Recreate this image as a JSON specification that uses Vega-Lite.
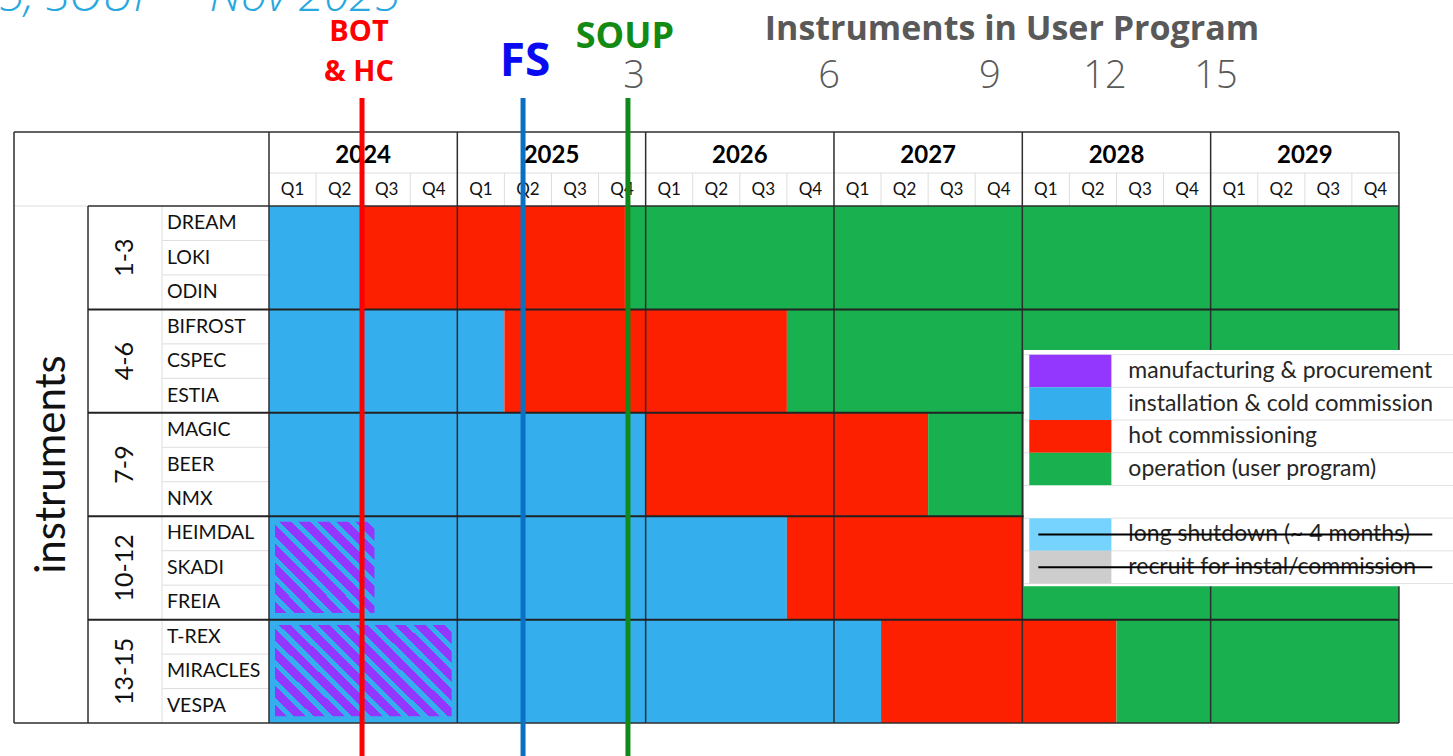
{
  "$schema": "https://vega.github.io/schema/vega-lite/v6.json",
  "width": 1453,
  "height": 756,
  "autosize": {"type": "none"},
  "padding": 0,
  "background": "white",
  "config": {"view": {"stroke": null}, "font": "Lato"},
  "datasets": {
    "segments": [
      {"group": "1-3", "first": 1, "last": 3, "phase": "installation & cold commission", "start": 2024, "end": 2024.48},
      {"group": "1-3", "first": 1, "last": 3, "phase": "hot commissioning", "start": 2024.48, "end": 2025.89},
      {"group": "1-3", "first": 1, "last": 3, "phase": "operation (user program)", "start": 2025.89, "end": 2030},
      {"group": "4-6", "first": 4, "last": 6, "phase": "installation & cold commission", "start": 2024, "end": 2025.25},
      {"group": "4-6", "first": 4, "last": 6, "phase": "hot commissioning", "start": 2025.25, "end": 2026.75},
      {"group": "4-6", "first": 4, "last": 6, "phase": "operation (user program)", "start": 2026.75, "end": 2030},
      {"group": "7-9", "first": 7, "last": 9, "phase": "installation & cold commission", "start": 2024, "end": 2026},
      {"group": "7-9", "first": 7, "last": 9, "phase": "hot commissioning", "start": 2026, "end": 2027.5},
      {"group": "7-9", "first": 7, "last": 9, "phase": "operation (user program)", "start": 2027.5, "end": 2030},
      {"group": "10-12", "first": 10, "last": 12, "phase": "manufacturing & procurement", "start": 2024, "end": 2024.56},
      {"group": "10-12", "first": 10, "last": 12, "phase": "installation & cold commission", "start": 2024, "end": 2026.75},
      {"group": "10-12", "first": 10, "last": 12, "phase": "hot commissioning", "start": 2026.75, "end": 2028},
      {"group": "10-12", "first": 10, "last": 12, "phase": "operation (user program)", "start": 2028, "end": 2030},
      {"group": "13-15", "first": 13, "last": 15, "phase": "manufacturing & procurement", "start": 2024, "end": 2024.97},
      {"group": "13-15", "first": 13, "last": 15, "phase": "installation & cold commission", "start": 2024, "end": 2027.25},
      {"group": "13-15", "first": 13, "last": 15, "phase": "hot commissioning", "start": 2027.25, "end": 2028.5},
      {"group": "13-15", "first": 13, "last": 15, "phase": "operation (user program)", "start": 2028.5, "end": 2030}
    ],
    "groups": [
      {"group": "1-3", "first": 1, "last": 3},
      {"group": "4-6", "first": 4, "last": 6},
      {"group": "7-9", "first": 7, "last": 9},
      {"group": "10-12", "first": 10, "last": 12},
      {"group": "13-15", "first": 13, "last": 15}
    ],
    "names": [
      {"n": 1, "name": "DREAM"}, {"n": 2, "name": "LOKI"}, {"n": 3, "name": "ODIN"},
      {"n": 4, "name": "BIFROST"}, {"n": 5, "name": "CSPEC"}, {"n": 6, "name": "ESTIA"},
      {"n": 7, "name": "MAGIC"}, {"n": 8, "name": "BEER"}, {"n": 9, "name": "NMX"},
      {"n": 10, "name": "HEIMDAL"}, {"n": 11, "name": "SKADI"}, {"n": 12, "name": "FREIA"},
      {"n": 13, "name": "T-REX"}, {"n": 14, "name": "MIRACLES"}, {"n": 15, "name": "VESPA"}
    ],
    "years": [{"year": 2024}, {"year": 2025}, {"year": 2026}, {"year": 2027}, {"year": 2028}, {"year": 2029}],
    "quarters": [
      {"q": "Q1", "start": 2024}, {"q": "Q2", "start": 2024.25}, {"q": "Q3", "start": 2024.5}, {"q": "Q4", "start": 2024.75},
      {"q": "Q1", "start": 2025}, {"q": "Q2", "start": 2025.25}, {"q": "Q3", "start": 2025.5}, {"q": "Q4", "start": 2025.75},
      {"q": "Q1", "start": 2026}, {"q": "Q2", "start": 2026.25}, {"q": "Q3", "start": 2026.5}, {"q": "Q4", "start": 2026.75},
      {"q": "Q1", "start": 2027}, {"q": "Q2", "start": 2027.25}, {"q": "Q3", "start": 2027.5}, {"q": "Q4", "start": 2027.75},
      {"q": "Q1", "start": 2028}, {"q": "Q2", "start": 2028.25}, {"q": "Q3", "start": 2028.5}, {"q": "Q4", "start": 2028.75},
      {"q": "Q1", "start": 2029}, {"q": "Q2", "start": 2029.25}, {"q": "Q3", "start": 2029.5}, {"q": "Q4", "start": 2029.75}
    ],
    "milestones": [
      {"milestone": "BOT & HC", "t": 2024.494},
      {"milestone": "FS", "t": 2025.349},
      {"milestone": "SOUP", "t": 2025.906}
    ],
    "uptake": [
      {"count": "3", "t": 2025.938},
      {"count": "6", "t": 2026.974},
      {"count": "9", "t": 2027.828},
      {"count": "12", "t": 2028.439},
      {"count": "15", "t": 2029.028}
    ],
    "legend": [
      {"order": 0, "label": "manufacturing & procurement"},
      {"order": 1, "label": "installation & cold commission"},
      {"order": 2, "label": "hot commissioning"},
      {"order": 3, "label": "operation (user program)"},
      {"order": 4, "label": ""},
      {"order": 5, "label": "long shutdown (~ 4 months)"},
      {"order": 6, "label": "recruit for instal/commission"}
    ]
  },
  "layer": [
    {
      "layer": [
        {
          "data": {"name": "segments"},
          "transform": [{"filter": "datum.phase !== 'manufacturing & procurement'"}],
          "mark": {"type": "rect", "yOffset": -17.235, "y2Offset": 17.235},
          "encoding": {
            "x": {"field": "start", "type": "quantitative", "scale": {"domain": [2022.5717, 2030.2869], "nice": false, "zero": false}, "axis": null},
            "x2": {"field": "end"},
            "y": {"field": "first", "type": "quantitative", "scale": {"domain": [-5.476, 16.456], "reverse": true, "nice": false, "zero": false}, "axis": null},
            "y2": {"field": "last"},
            "color": {
              "field": "phase", "type": "nominal", "legend": null,
              "scale": {
                "domain": ["manufacturing & procurement", "installation & cold commission", "hot commissioning", "operation (user program)", "", "long shutdown (~ 4 months)", "recruit for instal/commission"],
                "range": ["#9437fe", "#35aeee", "#fc1f00", "#19b04f", "#ffffff", "#75d3fd", "#cdcdcd"]
              }
            }
          }
        },
        {
          "data": {"name": "segments"},
          "transform": [{"filter": "datum.phase === 'manufacturing & procurement' && datum.group === '10-12'"}],
          "mark": {
            "type": "rect", "xOffset": 6, "yOffset": -11.8, "y2Offset": 10.5,
            "fill": {
              "gradient": "linear", "x1": 0, "y1": 1, "x2": 1.0448, "y2": 0.0492,
              "stops": [
                {"offset": 0, "color": "#9437fe"}, {"offset": 0.062, "color": "#9437fe"}, {"offset": 0.062, "color": "#35aeee"}, {"offset": 0.1, "color": "#35aeee"},
                {"offset": 0.1, "color": "#9437fe"}, {"offset": 0.162, "color": "#9437fe"}, {"offset": 0.162, "color": "#35aeee"}, {"offset": 0.2, "color": "#35aeee"},
                {"offset": 0.2, "color": "#9437fe"}, {"offset": 0.262, "color": "#9437fe"}, {"offset": 0.262, "color": "#35aeee"}, {"offset": 0.3, "color": "#35aeee"},
                {"offset": 0.3, "color": "#9437fe"}, {"offset": 0.362, "color": "#9437fe"}, {"offset": 0.362, "color": "#35aeee"}, {"offset": 0.4, "color": "#35aeee"},
                {"offset": 0.4, "color": "#9437fe"}, {"offset": 0.462, "color": "#9437fe"}, {"offset": 0.462, "color": "#35aeee"}, {"offset": 0.5, "color": "#35aeee"},
                {"offset": 0.5, "color": "#9437fe"}, {"offset": 0.562, "color": "#9437fe"}, {"offset": 0.562, "color": "#35aeee"}, {"offset": 0.6, "color": "#35aeee"},
                {"offset": 0.6, "color": "#9437fe"}, {"offset": 0.662, "color": "#9437fe"}, {"offset": 0.662, "color": "#35aeee"}, {"offset": 0.7, "color": "#35aeee"},
                {"offset": 0.7, "color": "#9437fe"}, {"offset": 0.762, "color": "#9437fe"}, {"offset": 0.762, "color": "#35aeee"}, {"offset": 0.8, "color": "#35aeee"},
                {"offset": 0.8, "color": "#9437fe"}, {"offset": 0.862, "color": "#9437fe"}, {"offset": 0.862, "color": "#35aeee"}, {"offset": 0.9, "color": "#35aeee"},
                {"offset": 0.9, "color": "#9437fe"}, {"offset": 0.962, "color": "#9437fe"}, {"offset": 0.962, "color": "#35aeee"}, {"offset": 1, "color": "#35aeee"}
              ]
            }
          },
          "encoding": {
            "x": {"field": "start", "type": "quantitative"},
            "x2": {"field": "end"},
            "y": {"field": "first", "type": "quantitative"},
            "y2": {"field": "last"}
          }
        },
        {
          "data": {"name": "segments"},
          "transform": [{"filter": "datum.phase === 'manufacturing & procurement' && datum.group === '13-15'"}],
          "mark": {
            "type": "rect", "xOffset": 6, "yOffset": -11.8, "y2Offset": 10.5,
            "fill": {
              "gradient": "linear", "x1": 0, "y1": 1, "x2": 1.1965, "y2": 0.3781,
              "stops": [
                {"offset": 0, "color": "#9437fe"}, {"offset": 0.0443, "color": "#9437fe"}, {"offset": 0.0443, "color": "#35aeee"}, {"offset": 0.0714, "color": "#35aeee"},
                {"offset": 0.0714, "color": "#9437fe"}, {"offset": 0.1157, "color": "#9437fe"}, {"offset": 0.1157, "color": "#35aeee"}, {"offset": 0.1429, "color": "#35aeee"},
                {"offset": 0.1429, "color": "#9437fe"}, {"offset": 0.1871, "color": "#9437fe"}, {"offset": 0.1871, "color": "#35aeee"}, {"offset": 0.2143, "color": "#35aeee"},
                {"offset": 0.2143, "color": "#9437fe"}, {"offset": 0.2586, "color": "#9437fe"}, {"offset": 0.2586, "color": "#35aeee"}, {"offset": 0.2857, "color": "#35aeee"},
                {"offset": 0.2857, "color": "#9437fe"}, {"offset": 0.33, "color": "#9437fe"}, {"offset": 0.33, "color": "#35aeee"}, {"offset": 0.3571, "color": "#35aeee"},
                {"offset": 0.3571, "color": "#9437fe"}, {"offset": 0.4014, "color": "#9437fe"}, {"offset": 0.4014, "color": "#35aeee"}, {"offset": 0.4286, "color": "#35aeee"},
                {"offset": 0.4286, "color": "#9437fe"}, {"offset": 0.4729, "color": "#9437fe"}, {"offset": 0.4729, "color": "#35aeee"}, {"offset": 0.5, "color": "#35aeee"},
                {"offset": 0.5, "color": "#9437fe"}, {"offset": 0.5443, "color": "#9437fe"}, {"offset": 0.5443, "color": "#35aeee"}, {"offset": 0.5714, "color": "#35aeee"},
                {"offset": 0.5714, "color": "#9437fe"}, {"offset": 0.6157, "color": "#9437fe"}, {"offset": 0.6157, "color": "#35aeee"}, {"offset": 0.6429, "color": "#35aeee"},
                {"offset": 0.6429, "color": "#9437fe"}, {"offset": 0.6871, "color": "#9437fe"}, {"offset": 0.6871, "color": "#35aeee"}, {"offset": 0.7143, "color": "#35aeee"},
                {"offset": 0.7143, "color": "#9437fe"}, {"offset": 0.7586, "color": "#9437fe"}, {"offset": 0.7586, "color": "#35aeee"}, {"offset": 0.7857, "color": "#35aeee"},
                {"offset": 0.7857, "color": "#9437fe"}, {"offset": 0.83, "color": "#9437fe"}, {"offset": 0.83, "color": "#35aeee"}, {"offset": 0.8571, "color": "#35aeee"},
                {"offset": 0.8571, "color": "#9437fe"}, {"offset": 0.9014, "color": "#9437fe"}, {"offset": 0.9014, "color": "#35aeee"}, {"offset": 0.9286, "color": "#35aeee"},
                {"offset": 0.9286, "color": "#9437fe"}, {"offset": 0.9729, "color": "#9437fe"}, {"offset": 0.9729, "color": "#35aeee"}, {"offset": 1, "color": "#35aeee"}
              ]
            }
          },
          "encoding": {
            "x": {"field": "start", "type": "quantitative"},
            "x2": {"field": "end"},
            "y": {"field": "first", "type": "quantitative"},
            "y2": {"field": "last"}
          }
        },
        {
          "data": {"name": "names"},
          "transform": [{"filter": "datum.n % 3 !== 0"}],
          "mark": {"type": "rule", "color": "#dedede", "strokeWidth": 1, "yOffset": 17.235},
          "encoding": {"x": {"datum": 2023.432}, "x2": {"datum": 2024}, "y": {"field": "n", "type": "quantitative"}}
        },
        {
          "data": {"values": [{}]},
          "mark": {"type": "rule", "color": "#dedede", "strokeWidth": 1},
          "encoding": {"x": {"datum": 2023.432}, "y": {"datum": 0.5}, "y2": {"datum": 15.5}}
        },
        {
          "data": {"values": [{}]},
          "mark": {"type": "rule", "color": "#dedede", "strokeWidth": 1},
          "encoding": {"x": {"datum": 2024}, "x2": {"datum": 2030}, "y": {"datum": -0.457}}
        },
        {
          "data": {"values": [{}]},
          "mark": {"type": "rule", "color": "#dedede", "strokeWidth": 1},
          "encoding": {"x": {"datum": 2022.646}, "x2": {"datum": 2023.039}, "y": {"datum": 0.5}}
        },
        {
          "data": {"name": "quarters"},
          "transform": [{"filter": "datum.q !== 'Q1'"}],
          "mark": {"type": "rule", "color": "#dedede", "strokeWidth": 1},
          "encoding": {"x": {"field": "start", "type": "quantitative"}, "y": {"datum": -0.457}, "y2": {"datum": 0.5}}
        },
        {
          "data": {"name": "years"},
          "mark": {"type": "rule", "color": "#2e2e2e", "strokeWidth": 1.5},
          "encoding": {"x": {"field": "year", "type": "quantitative"}, "y": {"datum": -1.647}, "y2": {"datum": 15.5}}
        },
        {
          "data": {"values": [{}]},
          "mark": {"type": "rule", "color": "#2e2e2e", "strokeWidth": 1.5},
          "encoding": {"x": {"datum": 2030}, "y": {"datum": -1.647}, "y2": {"datum": 15.5}}
        },
        {
          "data": {"values": [{}]},
          "mark": {"type": "rule", "color": "#2e2e2e", "strokeWidth": 1.5},
          "encoding": {"x": {"datum": 2022.646}, "y": {"datum": -1.647}, "y2": {"datum": 15.5}}
        },
        {
          "data": {"values": [{}]},
          "mark": {"type": "rule", "color": "#2e2e2e", "strokeWidth": 1.5},
          "encoding": {"x": {"datum": 2023.039}, "y": {"datum": 0.5}, "y2": {"datum": 15.5}}
        },
        {
          "data": {"values": [{}]},
          "mark": {"type": "rule", "color": "#2e2e2e", "strokeWidth": 1.5},
          "encoding": {"x": {"datum": 2022.646}, "x2": {"datum": 2030}, "y": {"datum": -1.647}}
        },
        {
          "data": {"values": [{}]},
          "mark": {"type": "rule", "color": "#2e2e2e", "strokeWidth": 1.5},
          "encoding": {"x": {"datum": 2023.039}, "x2": {"datum": 2030}, "y": {"datum": 0.5}}
        },
        {
          "data": {"values": [{}]},
          "mark": {"type": "rule", "color": "#2e2e2e", "strokeWidth": 1.5},
          "encoding": {"x": {"datum": 2022.646}, "x2": {"datum": 2030}, "y": {"datum": 15.5}}
        },
        {
          "data": {"name": "groups"},
          "transform": [{"filter": "datum.last < 15"}],
          "mark": {"type": "rule", "color": "#222222", "strokeWidth": 2, "yOffset": 17.235},
          "encoding": {"x": {"datum": 2023.039}, "x2": {"datum": 2030}, "y": {"field": "last", "type": "quantitative"}}
        },
        {
          "data": {"name": "years"},
          "mark": {"type": "text", "font": "Lato", "fontWeight": "bold", "fontSize": 24, "color": "#000000", "align": "center", "baseline": "middle", "xOffset": 94.17},
          "encoding": {"x": {"field": "year", "type": "quantitative"}, "y": {"datum": -0.951}, "text": {"field": "year", "type": "quantitative", "format": "d"}}
        },
        {
          "data": {"name": "quarters"},
          "mark": {"type": "text", "font": "Lato", "fontSize": 17, "color": "#111111", "align": "center", "baseline": "middle", "xOffset": 23.54},
          "encoding": {"x": {"field": "start", "type": "quantitative"}, "y": {"datum": 0.036}, "text": {"field": "q"}}
        },
        {
          "data": {"name": "names"},
          "mark": {"type": "text", "font": "Lato", "fontSize": 19.5, "color": "#111111", "align": "left", "baseline": "middle"},
          "encoding": {"x": {"datum": 2023.458}, "y": {"field": "n", "type": "quantitative"}, "text": {"field": "name"}}
        },
        {
          "data": {"name": "groups"},
          "mark": {"type": "text", "font": "Lato", "fontSize": 25, "color": "#111111", "align": "center", "baseline": "middle", "angle": 270, "yOffset": 34.47},
          "encoding": {"x": {"datum": 2023.235}, "y": {"field": "first", "type": "quantitative"}, "text": {"field": "group"}}
        },
        {
          "data": {"values": [{}]},
          "mark": {"type": "text", "font": "Lato", "fontSize": 42, "color": "#111111", "align": "center", "baseline": "middle", "angle": 270},
          "encoding": {"x": {"datum": 2022.848}, "y": {"datum": 8}, "text": {"value": "instruments"}}
        },
        {
          "data": {"values": [{}]},
          "mark": {"type": "text", "font": "Open Sans", "fontStyle": "italic", "fontWeight": 300, "fontSize": 46, "color": "#29a8e0", "align": "right", "baseline": "alphabetic", "clip": true},
          "encoding": {"x": {"datum": 2024.696}, "y": {"datum": -5.157}, "text": {"value": "2025, SOUP = Nov 2025"}}
        },
        {
          "data": {"values": [{}]},
          "mark": {"type": "text", "font": "Open Sans", "fontWeight": "bold", "fontSize": 34, "color": "#595959", "align": "center", "baseline": "alphabetic"},
          "encoding": {"x": {"datum": 2027.945}, "y": {"datum": -4.316}, "text": {"value": "Instruments in User Program"}}
        },
        {
          "data": {"name": "uptake"},
          "mark": {"type": "text", "font": "Open Sans", "fontWeight": 300, "fontSize": 38, "color": "#595959", "align": "center", "baseline": "alphabetic"},
          "encoding": {"x": {"field": "t", "type": "quantitative"}, "y": {"datum": -2.923}, "text": {"field": "count"}}
        },
        {
          "data": {"values": [{}]},
          "mark": {"type": "text", "font": "Open Sans", "fontWeight": "bold", "fontSize": 29, "color": "#ff0000", "align": "center", "baseline": "alphabetic", "lineHeight": 40},
          "encoding": {"x": {"datum": 2024.478}, "y": {"datum": -4.287}, "text": {"value": ["BOT", "& HC"]}}
        },
        {
          "data": {"values": [{}]},
          "mark": {"type": "text", "font": "Open Sans", "fontWeight": "bold", "fontSize": 46, "color": "#0a0af0", "align": "center", "baseline": "alphabetic"},
          "encoding": {"x": {"datum": 2025.359}, "y": {"datum": -3.271}, "text": {"value": "FS"}}
        },
        {
          "data": {"values": [{}]},
          "mark": {"type": "text", "font": "Open Sans", "fontWeight": "bold", "fontSize": 36, "color": "#138a13", "align": "center", "baseline": "alphabetic"},
          "encoding": {"x": {"datum": 2025.89}, "y": {"datum": -4.084}, "text": {"value": "SOUP"}}
        },
        {
          "data": {"name": "milestones"},
          "mark": {"type": "rule", "strokeWidth": 5},
          "encoding": {
            "x": {"field": "t", "type": "quantitative"},
            "y": {"datum": -2.633},
            "y2": {"datum": 16.456},
            "stroke": {"field": "milestone", "type": "nominal", "legend": null, "scale": {"domain": ["BOT & HC", "FS", "SOUP"], "range": ["#ff0000", "#0a70c4", "#10891a"]}}
          }
        }
      ]
    },
    {
      "layer": [
        {
          "data": {"values": [{}]},
          "mark": {"type": "rect", "color": "#ffffff", "xOffset": 1.5, "yOffset": -21, "y2Offset": 19},
          "encoding": {
            "x": {"datum": 2028},
            "x2": {"datum": 2030.4},
            "y": {"datum": 0, "type": "quantitative", "scale": {"domain": [-11.346, 11.774], "reverse": true, "nice": false, "zero": false}, "axis": null},
            "y2": {"datum": 6}
          }
        },
        {
          "data": {"name": "legend"},
          "mark": {"type": "rule", "color": "#e3e3e3", "strokeWidth": 1, "yOffset": -16.35},
          "encoding": {"x": {"datum": 2028.01}, "x2": {"datum": 2030.4}, "y": {"field": "order", "type": "quantitative"}}
        },
        {
          "data": {"name": "legend"},
          "transform": [{"filter": "datum.order === 6"}],
          "mark": {"type": "rule", "color": "#e3e3e3", "strokeWidth": 1, "yOffset": 16.35},
          "encoding": {"x": {"datum": 2028.01}, "x2": {"datum": 2030.4}, "y": {"field": "order", "type": "quantitative"}}
        },
        {
          "data": {"name": "legend"},
          "mark": {"type": "rect", "yOffset": -16.35, "y2Offset": 16.35},
          "encoding": {
            "x": {"datum": 2028.037},
            "x2": {"datum": 2028.473},
            "y": {"field": "order", "type": "quantitative"},
            "y2": {"field": "order"},
            "color": {"field": "label", "type": "nominal", "legend": null}
          }
        },
        {
          "data": {"name": "legend"},
          "mark": {"type": "text", "font": "Lato", "fontSize": 23, "color": "#262626", "align": "left", "baseline": "middle"},
          "encoding": {"x": {"datum": 2028.563}, "y": {"field": "order", "type": "quantitative"}, "text": {"field": "label"}}
        },
        {
          "data": {"name": "legend"},
          "transform": [{"filter": "datum.order >= 5"}],
          "mark": {"type": "rule", "color": "#000000", "strokeWidth": 2},
          "encoding": {"x": {"datum": 2028.085}, "x2": {"datum": 2030.177}, "y": {"field": "order", "type": "quantitative"}}
        }
      ]
    }
  ],
  "resolve": {"scale": {"y": "independent"}}
}
